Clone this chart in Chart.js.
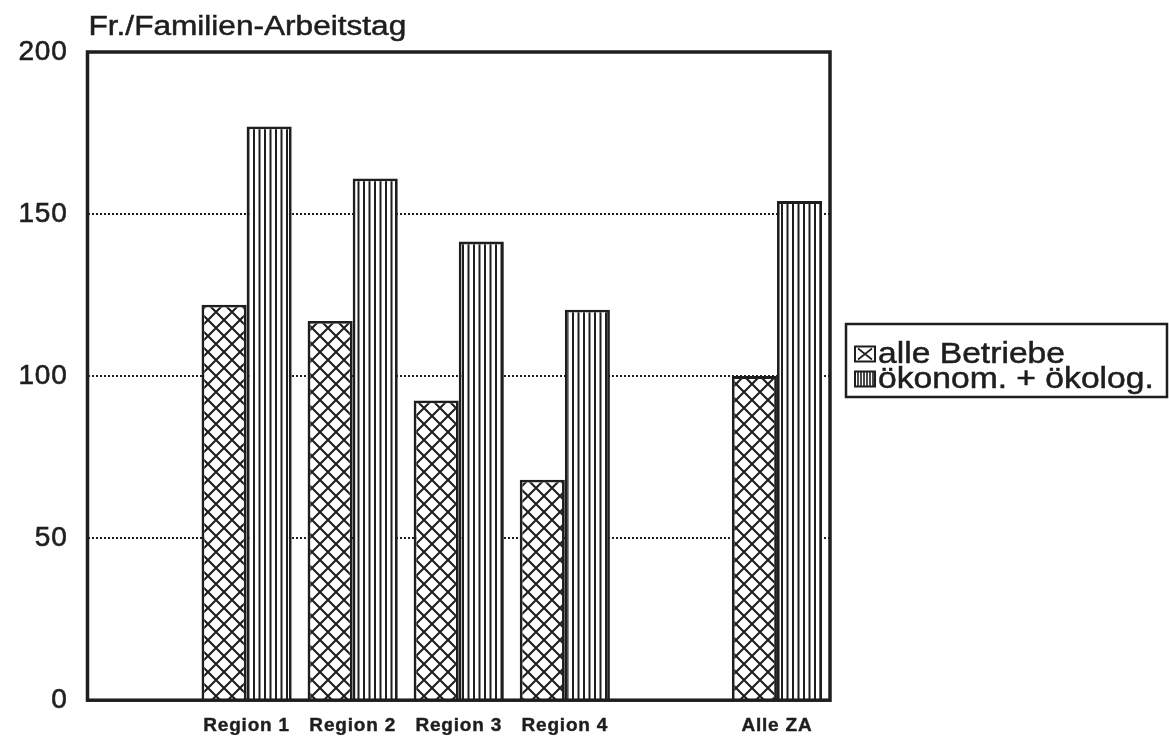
<!DOCTYPE html>
<html>
<head>
<meta charset="utf-8">
<script src="https://cdn.jsdelivr.net/npm/chart.js@4.4.1/dist/chart.umd.min.js"></script>
<style>
  html, body { margin: 0; padding: 0; background: #ffffff; }
  #wrap { width: 1169px; height: 737px; position: relative; }
</style>
</head>
<body>
<div id="wrap"><canvas id="chart" width="1169" height="737"></canvas></div>
<script>
// Categories (blank slots keep the gaps around the regional groups)
const categories = ['', 'Region 1', 'Region 2', 'Region 3', 'Region 4', '', 'Alle ZA'];
// Fr. per family work day
const alleBetriebe = [null, 122, 117, 92.5, 68, null, 100];
const oekonomOekolog = [null, 177, 161, 141.5, 120.5, null, 154];
const seriesNames = ['alle Betriebe', 'ökonom. + ökolog.'];
const yTicks = [0, 50, 100, 150, 200];
const yTitle = 'Fr./Familien-Arbeitstag';

const INK = '#1e1e1e';
const FONT = '"Liberation Sans", Arial, sans-serif';

// Fill patterns: cross-hatch and vertical hatching on white
function crossPattern() {
  const s = 16;
  const c = document.createElement('canvas');
  c.width = s; c.height = s;
  const g = c.getContext('2d');
  g.fillStyle = '#fff'; g.fillRect(0, 0, s, s);
  g.strokeStyle = INK; g.lineWidth = 2.1;
  g.beginPath();
  g.moveTo(-2, -2); g.lineTo(s + 2, s + 2);
  g.moveTo(s + 2, -2); g.lineTo(-2, s + 2);
  g.stroke();
  return c;
}
function verticalPattern() {
  const s = 11;
  const c = document.createElement('canvas');
  c.width = s; c.height = 4;
  const g = c.getContext('2d');
  g.fillStyle = '#fff'; g.fillRect(0, 0, s, 4);
  g.fillStyle = INK;
  g.fillRect(0, 0, 2, 4);
  g.fillRect(5.5, 0, 2, 4);
  return c;
}
const ctx = document.getElementById('chart').getContext('2d');
const crossFill = ctx.createPattern(crossPattern(), 'repeat');
const vertFill = ctx.createPattern(verticalPattern(), 'repeat');

// Slight tracking for axis labels
const spacingPlugin = {
  id: 'spacing',
  beforeDraw(chart) { chart.ctx.letterSpacing = '0.8px'; }
};

// Wide, heavy text helper
function wideText(ctx, text, x, y, scaleX) {
  ctx.save();
  ctx.translate(x, y);
  ctx.scale(scaleX, 1);
  ctx.fillText(text, 0, 0);
  ctx.lineWidth = 0.5;
  ctx.strokeStyle = INK;
  ctx.strokeText(text, 0, 0);
  ctx.restore();
}

// Plot frame, axis title and boxed legend
const decorPlugin = {
  id: 'decor',
  afterDatasetsDraw(chart) {
    const { ctx, chartArea: a } = chart;
    ctx.save();
    ctx.strokeStyle = INK;
    ctx.lineWidth = 3.5;
    ctx.strokeRect(a.left, a.top, a.right - a.left, a.bottom - a.top);
    ctx.restore();
  },
  afterDraw(chart) {
    const { ctx, chartArea: a } = chart;
    ctx.save();
    ctx.letterSpacing = '0px';
    ctx.fillStyle = INK;
    ctx.font = '27px ' + FONT;
    ctx.textBaseline = 'alphabetic';
    ctx.textAlign = 'left';
    wideText(ctx, yTitle, a.left + 1, 35, 1.17);

    // legend box
    const bx = 846, by = 324, bw = 321, bh = 73;
    ctx.lineWidth = 2.5;
    ctx.strokeStyle = INK;
    ctx.strokeRect(bx, by, bw, bh);

    ctx.font = '29px ' + FONT;
    ctx.textBaseline = 'middle';
    const rows = [by + 30, by + 55];
    chart.data.datasets.forEach((ds, i) => {
      const cy = rows[i];
      const sx = 855, sw = 20, sh = 15, sy = cy - sh / 2;
      ctx.fillStyle = '#fff';
      ctx.fillRect(sx, sy, sw, sh);
      ctx.strokeStyle = INK;
      ctx.lineWidth = 1.6;
      ctx.beginPath();
      if (i === 0) {
        ctx.moveTo(sx + 3, sy + 2); ctx.lineTo(sx + sw - 3, sy + sh - 2);
        ctx.moveTo(sx + sw - 3, sy + 2); ctx.lineTo(sx + 3, sy + sh - 2);
      } else {
        for (let x = sx + 3; x < sx + sw - 1; x += 3) {
          ctx.moveTo(x, sy); ctx.lineTo(x, sy + sh);
        }
      }
      ctx.stroke();
      ctx.lineWidth = 2;
      ctx.strokeRect(sx, sy, sw, sh);
      ctx.fillStyle = INK;
      wideText(ctx, ds.label, 878, cy + 1, 1.16);
    });
    ctx.restore();
  }
};

new Chart(ctx, {
  type: 'bar',
  data: {
    labels: categories,
    datasets: [
      {
        label: seriesNames[0],
        data: alleBetriebe,
        backgroundColor: crossFill,
        borderColor: INK,
        borderWidth: 2.8,
        borderSkipped: 'bottom'
      },
      {
        label: seriesNames[1],
        data: oekonomOekolog,
        backgroundColor: vertFill,
        borderColor: INK,
        borderWidth: 2.8,
        borderSkipped: 'bottom'
      }
    ]
  },
  options: {
    responsive: false,
    animation: false,
    devicePixelRatio: 1,
    layout: { padding: { left: 0, right: 339, top: 52, bottom: 0 } },
    plugins: {
      legend: { display: false },
      tooltip: { enabled: false },
      title: { display: false }
    },
    datasets: {
      bar: { categoryPercentage: 0.85, barPercentage: 1.0 }
    },
    scales: {
      x: {
        grid: { display: false },
        border: { display: false },
        ticks: {
          color: INK,
          font: { family: FONT, size: 19, weight: 'bold' },
          textStrokeColor: INK,
          textStrokeWidth: 0.4,
          padding: 6,
          maxRotation: 0,
          autoSkip: false
        },
        afterFit(scale) { scale.height = 35; }
      },
      y: {
        min: 0,
        max: 200,
        afterBuildTicks(scale) { scale.ticks = yTicks.map(v => ({ value: v })); },
        border: { display: false, dash: [2, 2] },
        grid: {
          drawTicks: false,
          color: ctx => (ctx.tick && (ctx.tick.value === 0 || ctx.tick.value === 200)) ? 'rgba(0,0,0,0)' : INK,
          lineWidth: 2
        },
        ticks: {
          color: INK,
          font: { family: FONT, size: 28 },
          textStrokeColor: INK,
          textStrokeWidth: 0.6,
          padding: 20
        },
        afterFit(scale) { scale.width = 87.5; }
      }
    }
  },
  plugins: [spacingPlugin, decorPlugin]
});
</script>
</body>
</html>
